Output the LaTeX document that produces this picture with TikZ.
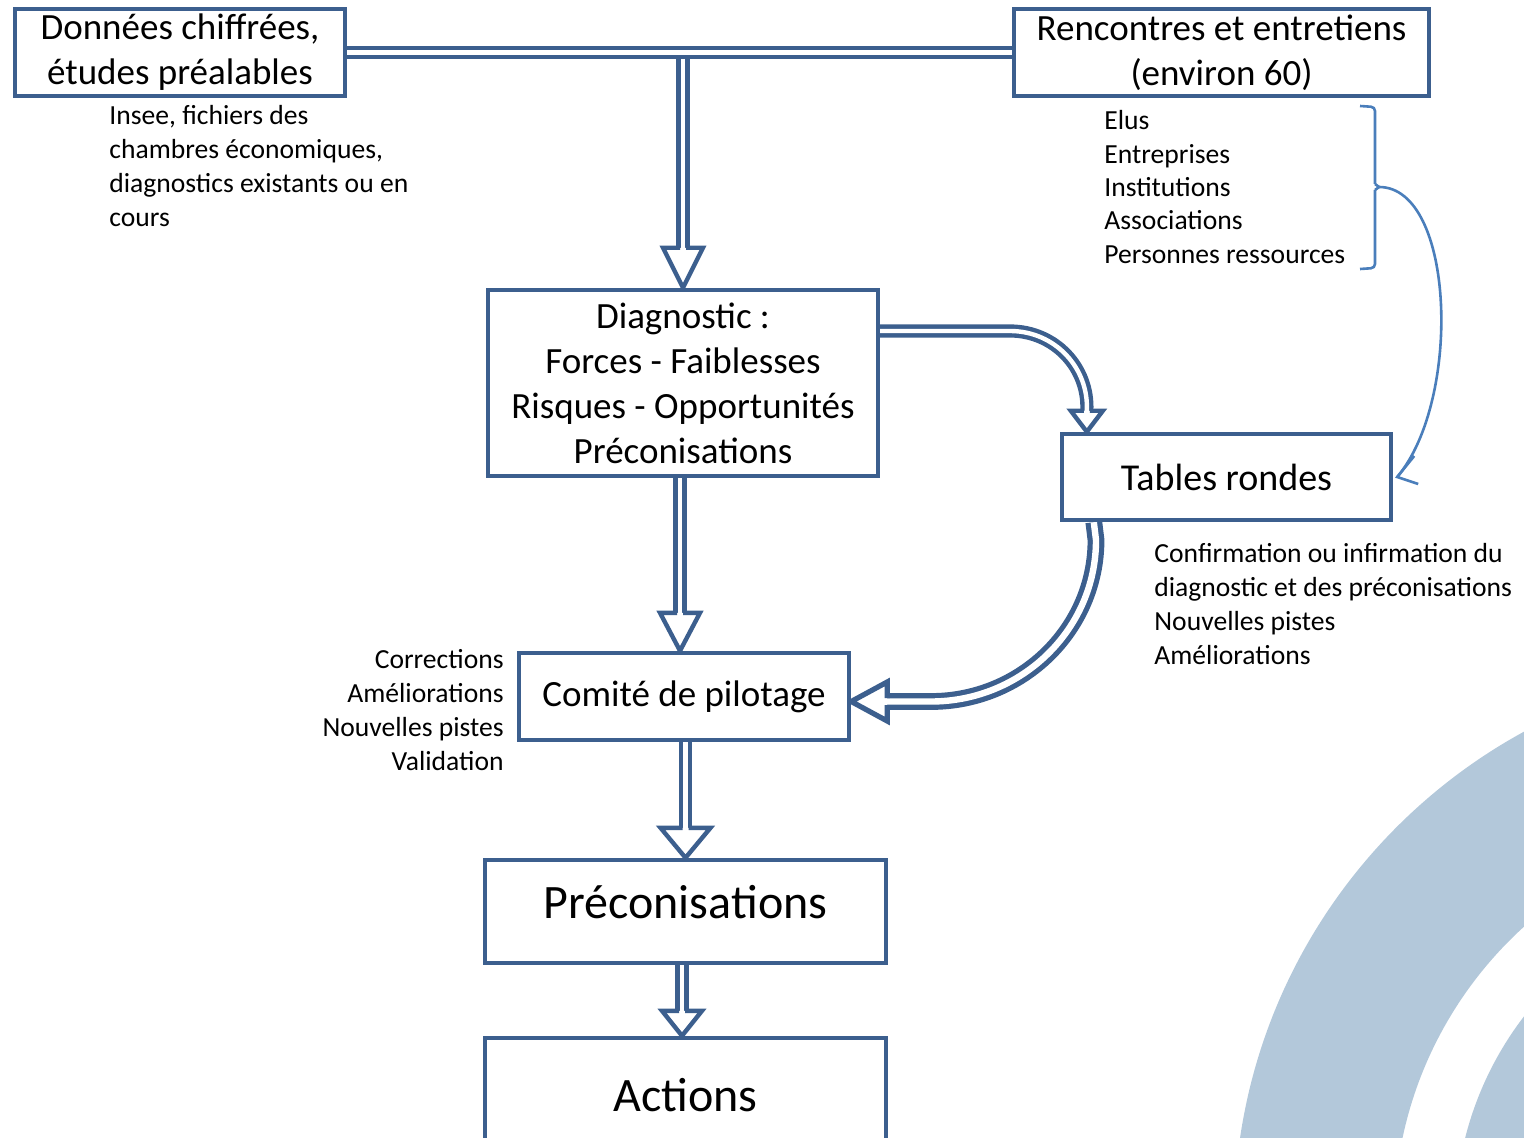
\documentclass[tikz,border=0pt]{standalone}
\usepackage{fontspec}
\setmainfont{Carlito}
\usetikzlibrary{calc,backgrounds}
\definecolor{mblue}{HTML}{3C5F8E}
\definecolor{lblue}{HTML}{4A7EBB}
\definecolor{bgc}{HTML}{B3C8DA}
\begin{document}
\begin{tikzpicture}[x=0.5pt,y=-0.5pt,
 box/.style={draw=mblue, line width=2.2pt, fill=white, inner sep=0pt, align=center, font=\fontsize{18.5}{22.5}\selectfont},
 bigbox/.style={box, font=\fontsize{24}{29}\selectfont},
 small/.style={inner sep=0pt, font=\fontsize{13.8}{17}\selectfont},
 dbl/.style={draw=mblue, line width=2.2pt, double=white, double distance=2.2pt},
 dblw/.style={draw=mblue, line width=2.6pt, double=white, double distance=3.2pt},
 hd/.style={draw=mblue, line width=2.2pt, fill=white, line join=miter},
 hdw/.style={draw=mblue, line width=2.6pt, fill=white, line join=miter},
 tb/.style={draw=lblue, line width=1.3pt},
 pics/dhead/.style 2 args={code={\draw[hd] (-3,-#2) -- (-#1,-#2) -- (0,0) -- (#1,-#2) -- (3,-#2);}},
 pics/dheadw/.style 2 args={code={\draw[hdw] (-3.5,-#2) -- (-#1,-#2) -- (0,0) -- (#1,-#2) -- (3.5,-#2);}},
]
\useasboundingbox (0,0) rectangle (1524,1138);
\clip (0,0) rectangle (1524,1138);

% boxes
\node[box, minimum width=165pt, minimum height=43.5pt] (d1) at (180,52.5) {Données chiffrées,\\ études préalables};
\node[box, minimum width=207.5pt, minimum height=43.5pt] (rc) at (1221.5,52.5) {Rencontres et entretiens\\(environ 60)};
\node[box, minimum width=195pt, minimum height=93pt] (diag) at (683,383) {Diagnostic :\\Forces - Faiblesses\\Risques - Opportunités\\Préconisations};
\node[box, minimum width=164.5pt, minimum height=43pt, font=\fontsize{19}{23}\selectfont] (tables) at (1226.5,477) {Tables rondes};
\node[box, minimum width=165pt, minimum height=43.5pt] (comite) at (684,696.5) {Comité de pilotage};
\node[bigbox, minimum width=200.5pt, minimum height=51.5pt, text height=20pt, text depth=13pt] (preco) at (685.5,911.5) {Préconisations};
\node[bigbox, minimum width=200.5pt, minimum height=57pt] (actions) at (685.5,1095) {Actions};

% labels
\foreach \t [count=\i from 0] in {{Insee, fichiers des},{chambres économiques,},{diagnostics existants ou en},{cours}}
  \node[small, anchor=base west] (src\i) at (109,125+34*\i) {\t};
\foreach \t [count=\i from 0] in {Elus,Entreprises,Institutions,Associations,Personnes ressources}
  \node[small, anchor=base west] (who\i) at (1104,130+33.3*\i) {\t};
\foreach \t [count=\i from 0] in {Confirmation ou infirmation du,diagnostic et des préconisations,Nouvelles pistes,Améliorations}
  \node[small, anchor=base west] (conf\i) at (1154,562+34*\i) {\t};
\foreach \t [count=\i from 0] in {Corrections,Améliorations,Nouvelles pistes,Validation}
  \node[small, anchor=base east] (corr\i) at (504,668+34*\i) {\t};

\begin{scope}[on background layer]
  \begin{scope}
    \clip (0,0) rectangle (1524,1138);
    \fill[bgc, even odd rule] (1790,1220) circle[radius=556] (1790,1220) circle[radius=396];
    \fill[bgc] (1790,1220) circle[radius=335];
  \end{scope}
  % top connector
  \draw[dbl] (d1.east) -- (rc.west);
  \coordinate (j) at (683,59);
  \draw[dbl] (j) -- ($(diag.north)+(0,-40)$);
  \pic at (diag.north) {dhead={20}{40}};
  % diag -> comite
  \coordinate (t2) at ($(comite.north)+(-4,0)$);
  \draw[dbl] (diag.south -| t2) -- ($(t2)+(0,-38)$);
  \pic at (t2) {dhead={20}{38}};
  % comite -> preco
  \coordinate (t3) at (preco.north);
  \draw[dbl] (comite.south -| t3) -- ($(t3)+(0,-30)$);
  \pic at (t3) {dhead={25}{30}};
  % preco -> actions
  \coordinate (t4) at ($(actions.north)+(-3.5,0)$);
  \draw[dbl] (preco.south -| t4) -- ($(t4)+(0,-25)$);
  \pic at (t4) {dhead={20}{25}};
  % diag -> tables
  \coordinate (m5) at (1010,331);
  \coordinate (s5) at (diag.east |- m5);
  \coordinate (t5) at ($(tables.north west)+(27,0)$);
  \draw[dbl] (s5) -- (m5) .. controls (1055,331) and (1089,368) .. ($(t5)+(0,-21)$);
  \pic at (t5) {dhead={16}{21}};
  % tables -> comite
  \coordinate (s6) at ($(tables.south west)+(34,0)$);
  \coordinate (t6) at ($(comite.east)+(0,5)$);
  \draw[dblw] (s6) -- (1096,540) .. controls (1096,629) and (1022,701.5) .. (931,701.5) -- ($(t6)+(36,0)$);
  \pic[rotate=-90] at (t6) {dheadw={19.5}{36}};
  % brace and thin arrow
  \coordinate (bt) at (1379,187);
  \coordinate (t7) at ($(tables.east)+(4,0)$);
  \draw[tb, rounded corners=2pt] (1360,106) -- (1375,107) -- (1375,184);
  \draw[tb] (1375,184) -- (bt) -- (1375,190);
  \draw[tb, rounded corners=2pt] (1375,190) -- (1375,268) -- (1360,269);
  \draw[tb] (bt) .. controls (1455,187) and (1462,400) .. (t7);
  \draw[tb] ($(t7)+(17,-21)$) -- (t7) -- ($(t7)+(21,7)$);
\end{scope}
\end{tikzpicture}
\end{document}
